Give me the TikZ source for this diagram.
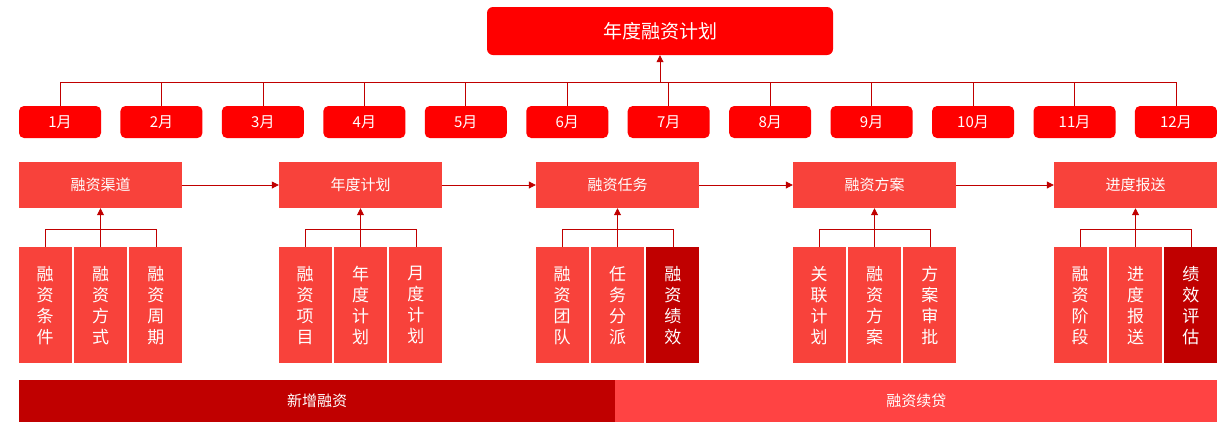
\documentclass[tikz,border=0pt]{standalone}
\usepackage{fontspec}
\setmainfont{Noto Sans CJK SC}
\usetikzlibrary{positioning,arrows.meta,calc}
\definecolor{rred}{HTML}{FF0000}
\definecolor{lred}{HTML}{F8423B}
\definecolor{dred}{HTML}{C00000}
\definecolor{bred}{HTML}{FF4343}
\tikzset{
  month/.style={fill=rred,rounded corners=5pt,minimum width=82pt,minimum height=32pt,text=white,font=\fontsize{15}{15}\selectfont,inner sep=0pt},
  stage/.style={fill=lred,minimum width=163pt,minimum height=46pt,text=white,font=\fontsize{15}{15}\selectfont,inner sep=0pt},
  sub/.style={fill=lred,minimum width=53pt,minimum height=116pt,text=white,font=\fontsize{17}{21}\selectfont,align=center,inner sep=0pt},
  link/.style={draw=dred,line width=0.8pt},
  tip/.style={-{Triangle[length=7pt,width=7pt]}}
}
\begin{document}
\begin{tikzpicture}[x=1pt,y=-1pt]
  \useasboundingbox (0,0) rectangle (1230,440);

  \node[fill=rred,rounded corners=6pt,minimum width=346pt,minimum height=48pt,text=white,font=\fontsize{19}{19}\selectfont] (plan) at (660,31) {年度融资计划};

  % months
  \coordinate (busL) at (60,82);
  \coordinate (busR) at (1176,82);
  \draw[link] (busL) -- (busR);
  \foreach \m in {1,...,12} {
    \node[month] (m\m) at ({60+(\m-1)*101.45},122) {\m 月};
    \draw[link] (m\m.north) -- (m\m.north |- busL);
  }
  \draw[link,tip] (plan.south |- busL) -- (plan.south);

  % stages
  \node[stage] (s1) at (100.5,185) {融资渠道};
  \node[stage] (s2) at (360.5,185) {年度计划};
  \node[stage] (s3) at (617.5,185) {融资任务};
  \node[stage] (s4) at (874.5,185) {融资方案};
  \node[stage] (s5) at (1135.5,185) {进度报送};
  \foreach \a/\b in {s1/s2,s2/s3,s3/s4,s4/s5}
    \draw[link,tip] (\a) -- (\b);

  % sub items
  \foreach \s/\ta/\tb/\tc/\cc in {
      s1/{融\\资\\条\\件}/{融\\资\\方\\式}/{融\\资\\周\\期}/lred,
      s2/{融\\资\\项\\目}/{年\\度\\计\\划}/{月\\度\\计\\划}/lred,
      s3/{融\\资\\团\\队}/{任\\务\\分\\派}/{融\\资\\绩\\效}/dred,
      s4/{关\\联\\计\\划}/{融\\资\\方\\案}/{方\\案\\审\\批}/lred,
      s5/{融\\资\\阶\\段}/{进\\度\\报\\送}/{绩\\效\\评\\估}/dred} {
    \node[sub,below=39pt of \s] (\s b) {\tb};
    \node[sub,left=2pt of \s b] (\s a) {\ta};
    \node[sub,right=2pt of \s b,fill=\cc] (\s c) {\tc};
    \coordinate (\s j) at ($(\s b.north)+(0,-18)$);
    \draw[link] (\s a.north) |- (\s j) -| (\s c.north);
    \draw[link,tip] (\s b.north) -- (\s.south);
  }

  % bottom bars
  \node[fill=dred,minimum width=596pt,minimum height=42pt,inner sep=0pt,text=white,font=\fontsize{15}{15}\selectfont] (newf) at (317,401) {新增融资};
  \node[fill=bred,minimum width=602pt,minimum height=42pt,inner sep=0pt,text=white,font=\fontsize{15}{15}\selectfont,right=0pt of newf] (renew) {融资续贷};
\end{tikzpicture}
\end{document}
